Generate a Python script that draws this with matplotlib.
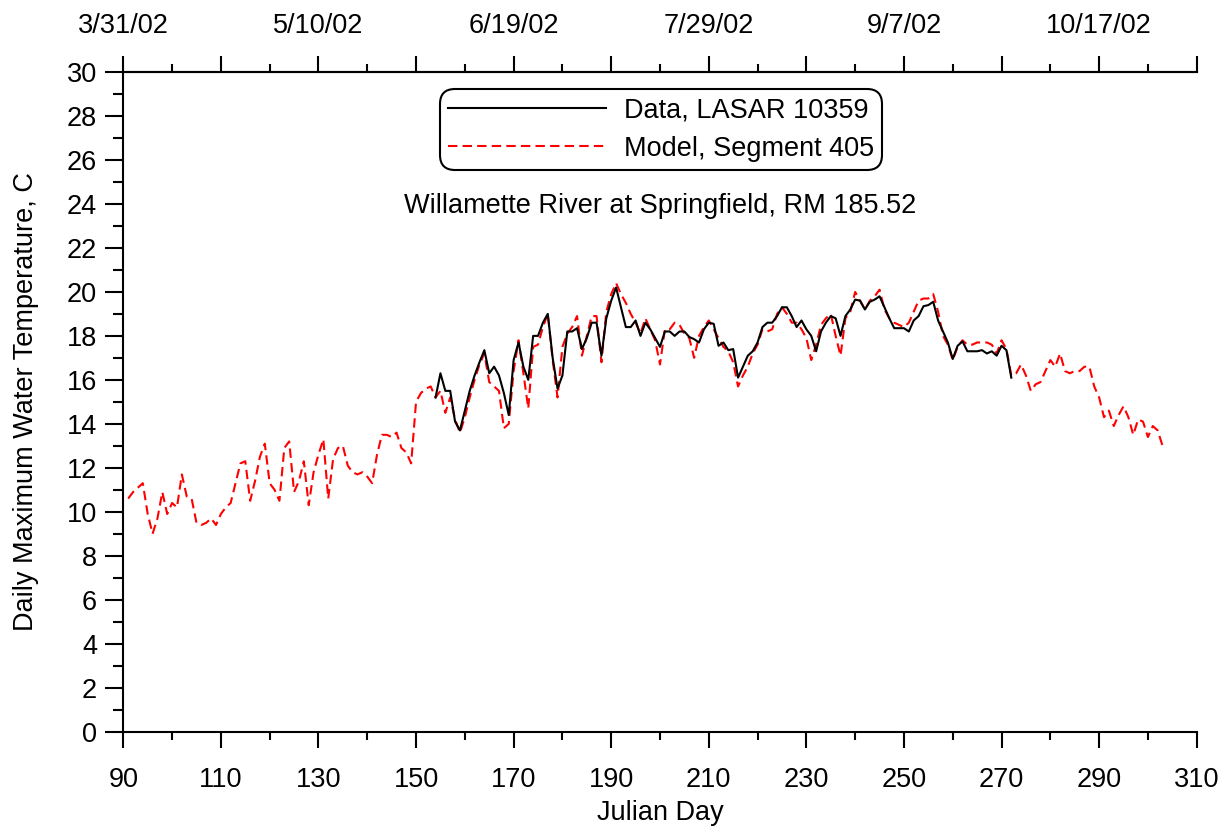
import matplotlib
matplotlib.use("Agg")
import matplotlib.pyplot as plt
from matplotlib.ticker import MultipleLocator, FixedLocator

plt.rcParams['font.family'] = ['Liberation Sans', 'DejaVu Sans']

# ---- data ----
model_start = 91
model_temp = [
    10.6, 10.9, 11.1, 11.3, 9.9, 9.0, 9.7, 10.9, 9.9, 10.4,          # 91-100
    10.2, 11.7, 10.7, 10.6, 9.5, 9.4, 9.5, 9.7, 9.4, 9.9,            # 101-110
    10.2, 10.4, 11.3, 12.2, 12.3, 10.5, 11.4, 12.5, 13.1, 11.3,      # 111-120
    11.0, 10.5, 12.9, 13.2, 10.9, 11.4, 12.3, 10.3, 11.8, 12.6,      # 121-130
    13.3, 10.6, 12.4, 12.9, 13.0, 12.1, 11.8, 11.7, 11.8, 11.6,      # 131-140
    11.3, 12.6, 13.5, 13.5, 13.4, 13.6, 12.9, 12.7, 12.2, 15.0,      # 141-150
    15.4, 15.6, 15.7, 15.2, 15.5, 14.5, 15.2, 14.2, 13.6, 14.3,      # 151-160
    15.2, 16.0, 16.7, 17.2, 15.9, 15.7, 15.5, 13.8, 14.0, 16.4,      # 161-170
    17.8, 16.3, 14.7, 17.5, 17.6, 18.4, 19.0, 16.9, 15.2, 17.5,      # 171-180
    18.1, 18.4, 18.9, 17.1, 18.0, 18.9, 18.9, 16.8, 19.1, 19.9,      # 181-190
    20.4, 19.9, 19.5, 19.0, 18.6, 18.1, 18.8, 18.3, 17.8, 16.7,      # 191-200
    18.3, 18.3, 18.6, 18.5, 18.1, 17.9, 17.0, 18.0, 18.4, 18.7,      # 201-210
    18.3, 17.9, 17.5, 17.3, 16.8, 15.7, 16.2, 16.6, 17.2, 17.6,      # 211-220
    18.3, 18.2, 18.3, 19.0, 19.3, 19.0, 18.6, 18.6, 18.3, 17.9,      # 221-230
    16.9, 17.6, 18.5, 18.8, 19.0, 18.0, 17.1, 18.8, 19.1, 20.0,      # 231-240
    19.6, 19.2, 19.6, 19.8, 20.1, 19.2, 18.8, 18.6, 18.5, 18.4,      # 241-250
    18.6, 19.1, 19.6, 19.7, 19.7, 19.9, 19.1, 18.0, 17.6, 16.9,      # 251-260
    17.5, 17.8, 17.6, 17.6, 17.7, 17.7, 17.7, 17.6, 17.2, 17.8,      # 261-270
    17.4, 16.2, 16.3, 16.7, 16.2, 15.5, 15.8, 15.9, 16.4, 16.9,      # 271-280
    16.6, 17.2, 16.4, 16.3, 16.4, 16.4, 16.6, 16.6, 15.7, 15.2,      # 281-290
    14.3, 14.6, 13.9, 14.4, 14.8, 14.3, 13.5, 14.2, 14.1, 13.4,      # 291-300
    13.9, 13.7, 13.0,                                                # 301-303
]
model_day = list(range(model_start, model_start + len(model_temp)))

data_start = 154
data_temp = [
    15.2, 16.3, 15.5, 15.5, 14.1, 13.7, 14.6, 15.5, 16.2, 16.8,      # 154-163
    17.35, 16.3, 16.6, 16.2, 15.4, 14.4, 16.9, 17.7, 16.6, 16.0,     # 164-173
    18.0, 18.0, 18.6, 19.0, 17.0, 15.6, 16.2, 18.2, 18.2, 18.35,     # 174-183
    17.4, 17.9, 18.6, 18.6, 17.1, 18.8, 19.6, 20.2, 19.3, 18.4,      # 184-193
    18.4, 18.7, 18.0, 18.6, 18.3, 17.9, 17.5, 18.2, 18.2, 18.0,      # 194-203
    18.2, 18.2, 17.95, 17.85, 17.7, 18.3, 18.6, 18.55, 17.55, 17.7,  # 204-213
    17.35, 17.4, 16.1, 16.6, 17.1, 17.3, 17.7, 18.4, 18.6, 18.6,     # 214-223
    18.9, 19.3, 19.3, 18.9, 18.4, 18.7, 18.3, 18.0, 17.3, 18.2,      # 224-233
    18.6, 18.9, 18.8, 18.0, 18.9, 19.2, 19.65, 19.6, 19.2, 19.55,    # 234-243
    19.65, 19.8, 19.3, 18.8, 18.35, 18.35, 18.35, 18.2, 18.7, 18.9,  # 244-253
    19.35, 19.4, 19.55, 18.7, 18.2, 17.7, 16.95, 17.55, 17.75, 17.3, # 254-263
    17.3, 17.3, 17.35, 17.2, 17.3, 17.1, 17.55, 17.35, 16.1,         # 264-272
]
data_day = list(range(data_start, data_start + len(data_temp)))

bottom_ticks = list(range(90, 311, 20))
top_tick_days = [90, 130, 170, 210, 250, 290]
top_tick_labels = ['3/31/02', '5/10/02', '6/19/02', '7/29/02', '9/7/02', '10/17/02']

legend_labels = ['Data, LASAR 10359', 'Model, Segment 405']
site_title = 'Willamette River at Springfield, RM 185.52'

# ---- figure ----
W, H = 1228, 827
fig = plt.figure(figsize=(W / 100, H / 100), dpi=100)
x0, x1, y0, y1 = 123.3, 1196.7, 731.7, 72.0
ax = fig.add_axes([x0 / W, 1 - y0 / H, (x1 - x0) / W, (y0 - y1) / H])

FS = 19.5
ax.plot(data_day, data_temp, color='black', lw=1.5, label=legend_labels[0], zorder=3)
ax.plot(model_day, model_temp, color='#ff0000', lw=1.5, dashes=(4.5, 2.5),
        label=legend_labels[1], zorder=2)

ax.set_xlim(90, 310)
ax.set_ylim(0, 30)

ax.xaxis.set_major_locator(FixedLocator(bottom_ticks))
ax.xaxis.set_minor_locator(FixedLocator([d + 10 for d in bottom_ticks[:-1]]))
ax.yaxis.set_major_locator(MultipleLocator(2))
ax.yaxis.set_minor_locator(MultipleLocator(1))

ax.spines['right'].set_visible(False)
for s in ['left', 'bottom', 'top']:
    ax.spines[s].set_linewidth(1.5)

ax.tick_params(axis='x', which='major', direction='out', length=11.5, width=1.5,
               labelsize=FS, pad=14)
ax.tick_params(axis='x', which='minor', direction='out', length=5.8, width=1.5)
ax.tick_params(axis='y', which='major', direction='out', length=13, width=1.5,
               labelsize=FS, pad=6)
ax.tick_params(axis='y', which='minor', direction='out', length=7, width=1.5)

ax.set_xlabel('Julian Day', fontsize=FS, labelpad=5)
ax.set_ylabel('Daily Maximum Water Temperature, C', fontsize=FS, labelpad=20)

# top date axis
sec = ax.secondary_xaxis('top')
sec.xaxis.set_major_locator(FixedLocator(bottom_ticks))
sec.set_xticklabels([top_tick_labels[top_tick_days.index(d)] if d in top_tick_days else ''
                     for d in bottom_ticks])
sec.xaxis.set_minor_locator(FixedLocator([d + 10 for d in bottom_ticks[:-1]]))
sec.tick_params(axis='x', which='major', direction='out', length=11.5, width=1.5,
                labelsize=FS, pad=12)
sec.tick_params(axis='x', which='minor', direction='out', length=5.8, width=1.5)
sec.spines['top'].set_linewidth(1.5)

ax.text(200, 23.9, site_title, ha='center', va='center', fontsize=FS)

leg = ax.legend(loc='upper center', bbox_to_anchor=((661 - x0) / (x1 - x0), (y0 - 89.3) / (y0 - y1)),
                borderaxespad=0, fontsize=FS, handlelength=5.85, handletextpad=0.66,
                labelspacing=0.45, borderpad=0.3, frameon=True, fancybox=True)
frame = leg.get_frame()
frame.set_edgecolor('black')
frame.set_linewidth(1.5)
frame.set_boxstyle('round', pad=0, rounding_size=0.55)
frame.set_alpha(None)
frame.set_facecolor('white')

fig.savefig('out.png', dpi=100)
